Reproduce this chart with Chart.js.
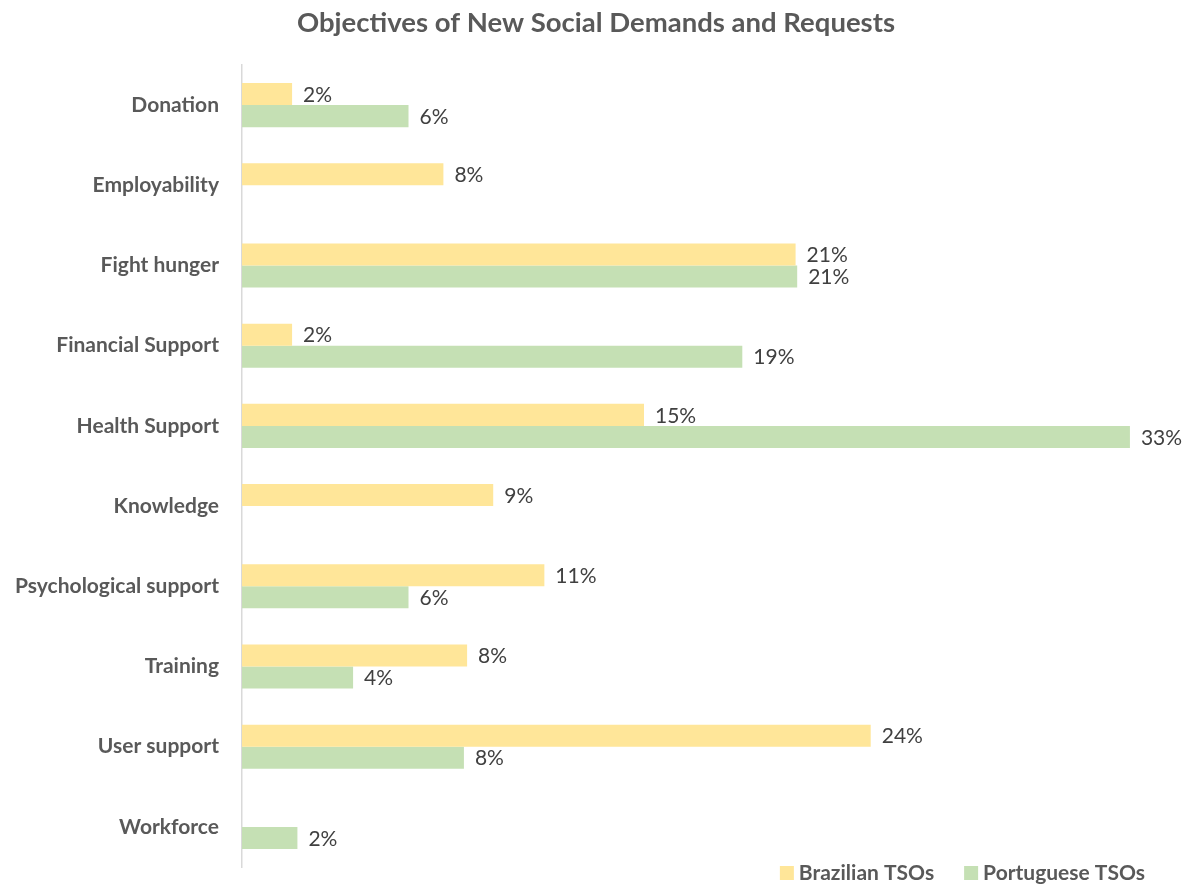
<!DOCTYPE html>
<html>
<head>
<meta charset="utf-8">
<script src="https://cdn.jsdelivr.net/npm/chart.js@4.4.1/dist/chart.umd.min.js"></script>
<style>
  html, body { margin:0; padding:0; background:#fff; }
</style>
</head>
<body>
<canvas id="barChart" width="1192" height="884"></canvas>
<script>
const CATEGORIES = ['Donation','Employability','Fight hunger','Financial Support','Health Support',
                    'Knowledge','Psychological support','Training','User support','Workforce'];
const BRAZIL   = [1.88, 7.56, 20.78, 1.88, 15.09, 9.43, 11.35, 8.45, 23.6, null];
const PORTUGAL = [6.25, null, 20.84, 18.78, 33.33, null, 6.25, 4.17, 8.33, 2.08];
const SERIES   = ['Brazilian TSOs','Portuguese TSOs'];
const COLORS   = ['#FFE699','#C5E0B4'];

const FONT = 'Lato, "Open Sans", sans-serif';

// ── Value labels at bar ends ──────────────────────────────────────────────────
const valueLabels = {
  id: 'valueLabels',
  afterDatasetsDraw(chart) {
    const ctx = chart.ctx;
    ctx.save();
    ctx.font = `21px ${FONT}`;
    ctx.fillStyle = '#404040';
    ctx.textAlign = 'left';
    ctx.textBaseline = 'middle';
    chart.data.datasets.forEach((ds, di) => {
      chart.getDatasetMeta(di).data.forEach((bar, i) => {
        const v = ds.data[i];
        if (v == null) return;
        ctx.fillText(Math.round(v) + '%', bar.x + 11, bar.y + 1);
      });
    });
    ctx.restore();
  }
};

// ── Legend, bottom right, overlapping the plot's lower edge like the original ──
const bottomLegend = {
  id: 'bottomLegend',
  afterDraw(chart) {
    const ctx = chart.ctx;
    ctx.save();
    ctx.font = `bold 21px ${FONT}`;
    ctx.textBaseline = 'middle';
    ctx.textAlign = 'left';
    const box = 14, gap = 5, between = 30, y = 873;
    const items = chart.data.datasets.map(ds => ({ text: ds.label, color: ds.backgroundColor, w: ctx.measureText(ds.label).width }));
    let x = 1145 - items.reduce((s, it) => s + box + gap + it.w, 0) - between * (items.length - 1);
    items.forEach(it => {
      ctx.fillStyle = it.color;
      ctx.fillRect(x, y - 7, box, box);
      ctx.fillStyle = '#595959';
      ctx.fillText(it.text, x + box + gap, y);
      x += box + gap + it.w + between;
    });
    ctx.restore();
  }
};

new Chart(document.getElementById('barChart').getContext('2d'), {
  type: 'bar',
  data: {
    labels: CATEGORIES,
    datasets: [
      { label: SERIES[0], data: BRAZIL,   backgroundColor: COLORS[0] },
      { label: SERIES[1], data: PORTUGAL, backgroundColor: COLORS[1] }
    ]
  },
  options: {
    indexAxis: 'y',
    responsive: false,
    animation: false,
    categoryPercentage: 0.55, barPercentage: 1,
    layout: { autoPadding: false, padding: { left: 0, right: 0, top: 0, bottom: 17 } },
    scales: {
      x: { display: false, min: 0, max: 35.66 },
      y: {
        grid: { display: false, drawTicks: false },
        border: { color: '#d9d9d9', width: 1.5 },
        ticks: { font: { family: FONT, size: 21, weight: 'bold' }, color: '#595959', padding: 23 },
        // fixed label column; no extra room for label overflow at the ends
        afterFit: s => { s.width = 242; s.paddingTop = 0; s.paddingBottom = 0; }
      }
    },
    plugins: {
      title: {
        display: true, text: 'Objectives of New Social Demands and Requests',
        color: '#595959', font: { family: FONT, size: 27.5, weight: 'bold' },
        padding: { top: 7, bottom: 25 }
      },
      legend: { display: false },
      tooltip: { enabled: false }
    }
  },
  plugins: [valueLabels, bottomLegend]
});
</script>
</body>
</html>
